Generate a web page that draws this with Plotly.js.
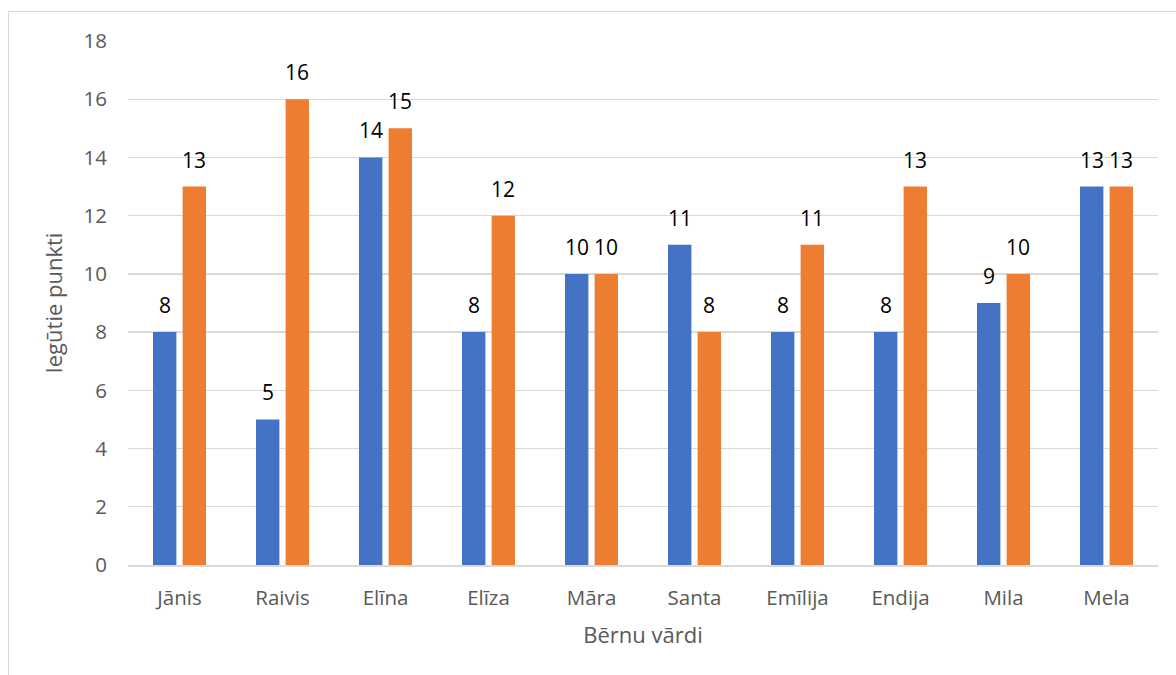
<!DOCTYPE html>
<html>
<head>
<meta charset="utf-8">
<script src="https://cdn.plot.ly/plotly-3.0.1.min.js"></script>
<style>
html,body{margin:0;padding:0;background:#fff;}
#wrap{position:relative;width:1176px;height:675px;overflow:hidden;}
#chart{width:1176px;height:675px;}
#frame{position:absolute;left:8px;top:11px;width:1300px;height:800px;border:1px solid #d9d9d9;pointer-events:none;}
</style>
</head>
<body>
<div id="wrap"><div id="chart"></div><div id="frame"></div></div>
<script>
const names = ["Jānis","Raivis","Elīna","Elīza","Māra","Santa","Emīlija","Endija","Mila","Mela"];
const series1 = [8,5,14,8,10,11,8,8,9,13];
const series2 = [13,16,15,12,10,8,11,13,10,13];
const yTicks = [0,2,4,6,8,10,12,14,16,18];
const xTitle = "Bērnu vārdi";
const yTitle = "Iegūtie punkti";

const font = "'Open Sans', Lato, sans-serif";
const traces = [
  {type:'bar', x:names, y:series1, marker:{color:'#4472C4'}, name:'1', hoverinfo:'none'},
  {type:'bar', x:names, y:series2, marker:{color:'#ED7D31'}, name:'2', hoverinfo:'none'}
];
const ann = [];
const shift = 14.8;
names.forEach((n,i)=>{
  ann.push({x:n, y:series1[i], xref:'x', yref:'y', text:String(series1[i]), showarrow:false, xshift:-shift, yshift:27, yanchor:'middle', font:{family:font,size:21,color:'#000'}});
  ann.push({x:n, y:series2[i], xref:'x', yref:'y', text:String(series2[i]), showarrow:false, xshift:shift, yshift:27, yanchor:'middle', font:{family:font,size:21,color:'#000'}});
});
const layout = {
  width:1176, height:675,
  margin:{l:128, r:18, t:41, b:110},
  paper_bgcolor:'#fff', plot_bgcolor:'#fff',
  barmode:'group', bargap:0.425, bargroupgap:0.21,
  showlegend:false,
  font:{family:font, color:'#595959'},
  xaxis:{type:'category', showgrid:false, showline:true, linecolor:'#d9d9d9', linewidth:1.5, ticks:'', tickfont:{size:20.5,color:'#595959'}, ticklabelstandoff:14,
         title:{text:xTitle, font:{size:22,color:'#595959'}, standoff:17}},
  yaxis:{range:[0,18], tickvals:yTicks, showgrid:true, gridcolor:'#d9d9d9', gridwidth:1.3, zeroline:false, showline:false, ticks:'',
         tickfont:{size:20.5,color:'#595959'}, ticklabelstandoff:20,
         title:{text:yTitle, font:{size:22,color:'#595959'}, standoff:14}},
  annotations:ann
};
Plotly.newPlot('chart', traces, layout, {displayModeBar:false, staticPlot:true});
</script>
</body>
</html>
